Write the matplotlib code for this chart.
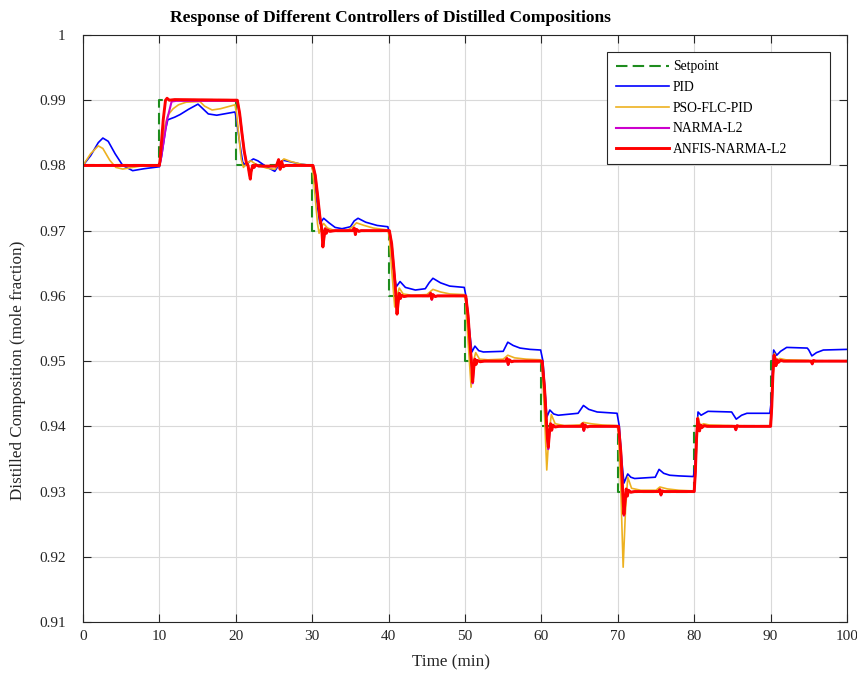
import matplotlib
matplotlib.use("Agg")
import matplotlib.pyplot as plt

plt.rcParams['font.family'] = ['Liberation Serif', 'DejaVu Serif']

# ---------------- data ----------------
sp_time = [0, 10, 20, 30, 40, 50, 60, 70, 80, 90, 100]
sp_val = [0.98, 0.99, 0.98, 0.97, 0.96, 0.95, 0.94, 0.93, 0.94, 0.95, 0.95]

pid_t = [0, 1, 2, 2.6, 3.3, 4.2, 5.2, 6.5, 8, 10,
         10.3, 10.8, 11.1, 12, 12.7, 13.8, 15.05, 15.6, 16.4, 17.5, 19.9,
         20.1, 20.5, 20.9, 21.3, 21.8, 22.3, 22.9, 24, 25.1, 25.6, 26.2, 27, 28.5, 29.9,
         30.2, 30.6, 31.0, 31.5, 32.2, 33, 33.9, 35, 35.5, 36, 37, 38.5, 39.9,
         40.2, 40.6, 41.0, 41.5, 42.2, 43.5, 44.8, 45.3, 45.8, 46.8, 48, 49.9,
         50.2, 50.6, 50.9, 51.3, 51.8, 52.4, 55, 55.6, 56.3, 57.2, 58.5, 59.9,
         60.2, 60.5, 60.7, 61.1, 61.6, 62.2, 64.8, 65.5, 66.2, 67.3, 69.9,
         70.2, 70.5, 70.8, 71.3, 71.7, 72.2, 74.9, 75.4, 76, 76.8, 78, 79.9,
         80.1, 80.3, 80.5, 80.9, 81.8, 84.9, 85.5, 86.2, 86.9, 89.9,
         90.1, 90.25, 90.4, 90.8, 91.3, 92.1, 94.8, 95.0, 95.4, 96.0, 96.9, 100]
pid_y = [0.9800, 0.9815, 0.9835, 0.9842, 0.9837, 0.9818, 0.9800, 0.9792, 0.9795, 0.9798,
         0.9815, 0.9855, 0.9870, 0.9874, 0.9878, 0.9886, 0.9894, 0.9888, 0.9879, 0.9877, 0.9882,
         0.9870, 0.9835, 0.9805, 0.9800, 0.9806, 0.9810, 0.9807, 0.9798, 0.9791, 0.9800, 0.9808, 0.9806, 0.9802, 0.9800,
         0.9790, 0.9745, 0.9711, 0.9719, 0.9712, 0.9705, 0.9703, 0.9706, 0.9715, 0.9719, 0.9713, 0.9708, 0.9706,
         0.9690, 0.9645, 0.9614, 0.9622, 0.9613, 0.9609, 0.9611, 0.9620, 0.9627, 0.9620, 0.9615, 0.9613,
         0.9595, 0.9545, 0.9514, 0.9523, 0.9516, 0.9514, 0.9515, 0.9529, 0.9524, 0.9520, 0.9518, 0.9517,
         0.9500, 0.9450, 0.9414, 0.9425, 0.9419, 0.9417, 0.9420, 0.9432, 0.9426, 0.9422, 0.9420,
         0.9400, 0.9350, 0.9313, 0.9327, 0.9322, 0.9320, 0.9322, 0.9334, 0.9328, 0.9325, 0.9324, 0.9323,
         0.9340, 0.9385, 0.9422, 0.9417, 0.9423, 0.9422, 0.9411, 0.9417, 0.9420, 0.9420,
         0.9440, 0.9485, 0.9517, 0.9509, 0.9515, 0.9521, 0.9520, 0.9517, 0.9508, 0.9513, 0.9517, 0.9518]

pso_t = [0, 1, 2.0, 2.6, 3.5, 4.3, 5.2, 6.5, 8, 10,
         10.3, 10.7, 11.1, 11.8, 12.5, 13.5, 15.3, 15.9, 16.9, 18, 19.9,
         20.1, 20.4, 20.7, 21.0, 21.5, 22.0, 22.7, 24, 25.1, 25.7, 26.3, 27.2, 28.5, 29.9,
         30.1, 30.4, 30.7, 30.9, 31.2, 31.5, 32, 33, 34.5, 35.2, 35.8, 36.8, 38, 39.9,
         40.1, 40.4, 40.8, 41.1, 41.4, 41.9, 43, 45, 45.8, 46.8, 48, 49.9,
         50.1, 50.4, 50.8, 51.1, 51.4, 51.9, 53, 55, 55.6, 56.5, 58, 59.9,
         60.1, 60.4, 60.7, 61.0, 61.3, 61.8, 63, 65, 65.5, 66.5, 68, 69.9,
         70.1, 70.4, 70.7, 71.0, 71.3, 71.8, 73, 75, 75.5, 76.5, 78, 79.9,
         80.1, 80.3, 80.5, 80.8, 81.2, 82, 85, 85.4, 86, 89.9,
         90.1, 90.3, 90.5, 90.8, 91.2, 92, 95, 95.4, 96, 100]
pso_y = [0.9800, 0.9818, 0.9830, 0.9826, 0.9808, 0.9797, 0.97945, 0.9797, 0.9800, 0.9800,
         0.9825, 0.9860, 0.9877, 0.9887, 0.9893, 0.9897, 0.9898, 0.9891, 0.9885, 0.9887, 0.9893,
         0.9880, 0.9845, 0.9810, 0.9797, 0.9804, 0.9807, 0.9801, 0.9796, 0.9794, 0.9803, 0.9810, 0.9806, 0.9802, 0.9800,
         0.9790, 0.9750, 0.9710, 0.9696, 0.9706, 0.9711, 0.9704, 0.9700, 0.9700, 0.9705, 0.9712, 0.9708, 0.9704, 0.9701,
         0.9690, 0.9640, 0.9583, 0.9600, 0.9612, 0.9603, 0.9601, 0.9602, 0.9610, 0.9606, 0.9603, 0.9602,
         0.9590, 0.9530, 0.9460, 0.9500, 0.9513, 0.9503, 0.9502, 0.9503, 0.9509, 0.9505, 0.9503, 0.9502,
         0.9490, 0.9420, 0.9333, 0.9390, 0.9418, 0.9404, 0.9401, 0.9402, 0.9406, 0.9404, 0.9402, 0.9401,
         0.9390, 0.9300, 0.9184, 0.9270, 0.9322, 0.9305, 0.9302, 0.9302, 0.9307, 0.9304, 0.9302, 0.9301,
         0.9310, 0.9370, 0.9414, 0.9400, 0.9404, 0.9402, 0.9401, 0.9398, 0.9401, 0.9400,
         0.9420, 0.9470, 0.9512, 0.9500, 0.9504, 0.9502, 0.9501, 0.9497, 0.9500, 0.9500]

narma_t = [0, 10, 10.2, 11.0, 11.6, 12.2, 20.2,
           20.5, 20.8, 21.1, 21.4, 21.6, 21.8, 21.9, 22.0, 22.2, 22.4, 22.6, 23, 25.3, 25.6, 25.8, 26.0, 26.2, 26.5, 30.1,
           30.4, 30.7, 31.0, 31.25, 31.4, 31.55, 31.7, 31.85, 32.0, 32.3, 33, 35.3, 35.5, 35.65, 35.8, 36.1, 36.4, 40.1,
           40.4, 40.7, 40.95, 41.1, 41.25, 41.4, 41.55, 41.7, 42, 42.5, 45.3, 45.5, 45.65, 45.8, 46.1, 46.4, 50.1,
           50.4, 50.7, 50.9, 51.0, 51.15, 51.3, 51.45, 51.6, 52, 52.5, 55.3, 55.5, 55.65, 55.8, 56.1, 56.4, 60.1,
           60.4, 60.7, 60.8, 60.9, 61.05, 61.2, 61.35, 61.5, 61.8, 62.3, 65.2, 65.4, 65.55, 65.7, 66, 66.3, 70.1,
           70.4, 70.6, 70.7, 70.8, 70.95, 71.1, 71.25, 71.4, 71.7, 72.2, 75.3, 75.5, 75.65, 75.8, 76.1, 80.0,
           80.15, 80.3, 80.45, 80.6, 80.7, 80.85, 81.0, 81.3, 81.7, 85.3, 85.45, 85.6, 85.9, 90.0,
           90.15, 90.3, 90.45, 90.6, 90.7, 90.85, 91.0, 91.3, 91.7, 95.3, 95.45, 95.6, 95.9, 100]
narma_y = [0.9800, 0.9800, 0.9810, 0.9870, 0.9898, 0.9899, 0.9899,
           0.9880, 0.9850, 0.9822, 0.9803, 0.9799, 0.9787, 0.9781, 0.9791, 0.9800, 0.9797, 0.9801, 0.9799, 0.9799, 0.9807, 0.9795, 0.9805, 0.9798, 0.9800, 0.9800,
           0.9785, 0.9755, 0.9722, 0.9702, 0.9677, 0.9690, 0.9703, 0.9696, 0.9701, 0.9699, 0.9700, 0.9700, 0.9704, 0.9694, 0.9702, 0.9699, 0.9700, 0.9700,
           0.9680, 0.9640, 0.9602, 0.9574, 0.9590, 0.9604, 0.9596, 0.9601, 0.9599, 0.9600, 0.9600, 0.9604, 0.9594, 0.9602, 0.9599, 0.9600, 0.9600,
           0.9570, 0.9520, 0.9490, 0.9466, 0.9490, 0.9503, 0.9495, 0.9501, 0.9499, 0.9500, 0.9500, 0.9504, 0.9494, 0.9502, 0.9499, 0.9500, 0.9500,
           0.9460, 0.9400, 0.9380, 0.9365, 0.9390, 0.9404, 0.9394, 0.9402, 0.9399, 0.9400, 0.9400, 0.9404, 0.9393, 0.9402, 0.9399, 0.9400, 0.9400,
           0.9360, 0.9310, 0.9285, 0.9263, 0.9285, 0.9304, 0.9293, 0.9302, 0.9299, 0.9300, 0.9300, 0.9303, 0.9294, 0.9301, 0.9300, 0.9300,
           0.9330, 0.9380, 0.9411, 0.9400, 0.9393, 0.9402, 0.9398, 0.9401, 0.9400, 0.9400, 0.9394, 0.9401, 0.9400, 0.9400,
           0.9430, 0.9480, 0.9508, 0.9500, 0.9493, 0.9502, 0.9498, 0.9501, 0.9500, 0.9500, 0.9495, 0.9501, 0.9500, 0.9500]

anfis_t = [0, 10, 10.1, 10.5, 10.8, 11.0, 11.3, 12, 20.2,
           20.5, 20.8, 21.1, 21.4, 21.6, 21.8, 21.9, 22.0, 22.2, 22.4, 22.6, 23, 25.3, 25.6, 25.8, 26.0, 26.2, 26.5, 30.1,
           30.4, 30.7, 31.0, 31.25, 31.4, 31.55, 31.7, 31.85, 32.0, 32.3, 33, 35.3, 35.5, 35.65, 35.8, 36.1, 36.4, 40.1,
           40.4, 40.7, 40.95, 41.1, 41.25, 41.4, 41.55, 41.7, 42, 42.5, 45.3, 45.5, 45.65, 45.8, 46.1, 46.4, 50.1,
           50.4, 50.7, 50.9, 51.0, 51.15, 51.3, 51.45, 51.6, 52, 52.5, 55.3, 55.5, 55.65, 55.8, 56.1, 56.4, 60.1,
           60.4, 60.7, 60.8, 60.9, 61.05, 61.2, 61.35, 61.5, 61.8, 62.3, 65.2, 65.4, 65.55, 65.7, 66, 66.3, 70.1,
           70.4, 70.6, 70.7, 70.8, 70.95, 71.1, 71.25, 71.4, 71.7, 72.2, 75.3, 75.5, 75.65, 75.8, 76.1, 80.0,
           80.15, 80.3, 80.45, 80.6, 80.7, 80.85, 81.0, 81.3, 81.7, 85.3, 85.45, 85.6, 85.9, 90.0,
           90.15, 90.3, 90.45, 90.6, 90.7, 90.85, 91.0, 91.3, 91.7, 95.3, 95.45, 95.6, 95.9, 100]
anfis_y = [0.9800, 0.9800, 0.9810, 0.9870, 0.9900, 0.9903, 0.9900, 0.9901, 0.9900,
           0.9880, 0.9850, 0.9822, 0.9803, 0.9800, 0.9785, 0.9779, 0.9790, 0.9800, 0.9797, 0.9801, 0.9799, 0.9799, 0.9809, 0.9794, 0.9806, 0.9798, 0.9800, 0.9800,
           0.9785, 0.9755, 0.9722, 0.9702, 0.9675, 0.9690, 0.9703, 0.9696, 0.9701, 0.9699, 0.9700, 0.9700, 0.9704, 0.9694, 0.9702, 0.9699, 0.9700, 0.9700,
           0.9680, 0.9640, 0.9602, 0.9572, 0.9590, 0.9604, 0.9596, 0.9601, 0.9599, 0.9600, 0.9600, 0.9604, 0.9595, 0.9602, 0.9599, 0.9600, 0.9600,
           0.9570, 0.9520, 0.9490, 0.9468, 0.9490, 0.9503, 0.9495, 0.9501, 0.9499, 0.9500, 0.9500, 0.9504, 0.9495, 0.9502, 0.9499, 0.9500, 0.9500,
           0.9460, 0.9400, 0.9380, 0.9368, 0.9390, 0.9404, 0.9394, 0.9402, 0.9399, 0.9400, 0.9400, 0.9404, 0.9394, 0.9402, 0.9399, 0.9400, 0.9400,
           0.9360, 0.9310, 0.9285, 0.9265, 0.9285, 0.9304, 0.9293, 0.9302, 0.9299, 0.9300, 0.9300, 0.9303, 0.9295, 0.9301, 0.9300, 0.9300,
           0.9330, 0.9380, 0.9412, 0.9400, 0.9393, 0.9402, 0.9398, 0.9401, 0.9400, 0.9400, 0.9395, 0.9401, 0.9400, 0.9400,
           0.9430, 0.9480, 0.9509, 0.9500, 0.9493, 0.9502, 0.9498, 0.9501, 0.9500, 0.9500, 0.9496, 0.9501, 0.9500, 0.9500]

x_ticks = [0, 10, 20, 30, 40, 50, 60, 70, 80, 90, 100]
y_ticks = [0.91, 0.92, 0.93, 0.94, 0.95, 0.96, 0.97, 0.98, 0.99, 1.0]
y_tick_labels = ["0.91", "0.92", "0.93", "0.94", "0.95", "0.96", "0.97", "0.98", "0.99", "1"]

# ---------------- figure ----------------
fig = plt.figure(figsize=(8.57, 6.79), dpi=100)
ax = fig.add_axes([0.09685, 0.08395, 0.8915, 0.8645])

ax.plot(sp_time, sp_val, drawstyle='steps-post', color='#1E8C1E', lw=1.5,
        linestyle=(0, (5.5, 2.5)), label='Setpoint')
ax.plot(pid_t, pid_y, color='#0000FF', lw=1.2, label='PID')
ax.plot(pso_t, pso_y, color='#EDB120', lw=1.2, label='PSO-FLC-PID')
ax.plot(narma_t, narma_y, color='#CC00CC', lw=1.5, label='NARMA-L2')
ax.plot(anfis_t, anfis_y, color='#FF0000', lw=2.1, label='ANFIS-NARMA-L2')

ax.set_xlim(0, 100)
ax.set_ylim(0.91, 1.0)
ax.set_xticks(x_ticks)
ax.set_yticks(y_ticks)
ax.set_yticklabels(y_tick_labels)
ax.grid(True, color='#d9d9d9', lw=0.8)
ax.set_axisbelow(True)

ax.tick_params(direction='in', length=5.5, width=0.8, colors='#262626',
               top=True, right=True, labelsize=11)
ax.tick_params(axis='x', pad=6)
ax.tick_params(axis='y', pad=12.5)
for s in ax.spines.values():
    s.set_color('#262626')
    s.set_linewidth(0.8)

ax.set_xlabel('Time (min)', fontsize=12.3, color='#262626')
ax.xaxis.set_label_coords(0.482, -0.056)
ax.set_ylabel('Distilled Composition (mole fraction)', fontsize=12.3, color='#262626')
ax.yaxis.set_label_coords(-0.0746, 0.429)
ax.text(0.403, 1.0225, 'Response of Different Controllers of Distilled Compositions',
        transform=ax.transAxes, ha='center', va='baseline',
        fontsize=12.5, fontweight='bold', color='black')

leg = ax.legend(loc='upper left', bbox_to_anchor=(0.686, 0.5, 0.292, 0.471),
                mode='expand', borderaxespad=0, fontsize=9.8, handlelength=3.9,
                handletextpad=0.3, labelspacing=0.56, fancybox=False,
                framealpha=1, edgecolor='#262626', borderpad=0.62)
leg.get_frame().set_linewidth(0.8)

fig.savefig('out.png', dpi=100)
